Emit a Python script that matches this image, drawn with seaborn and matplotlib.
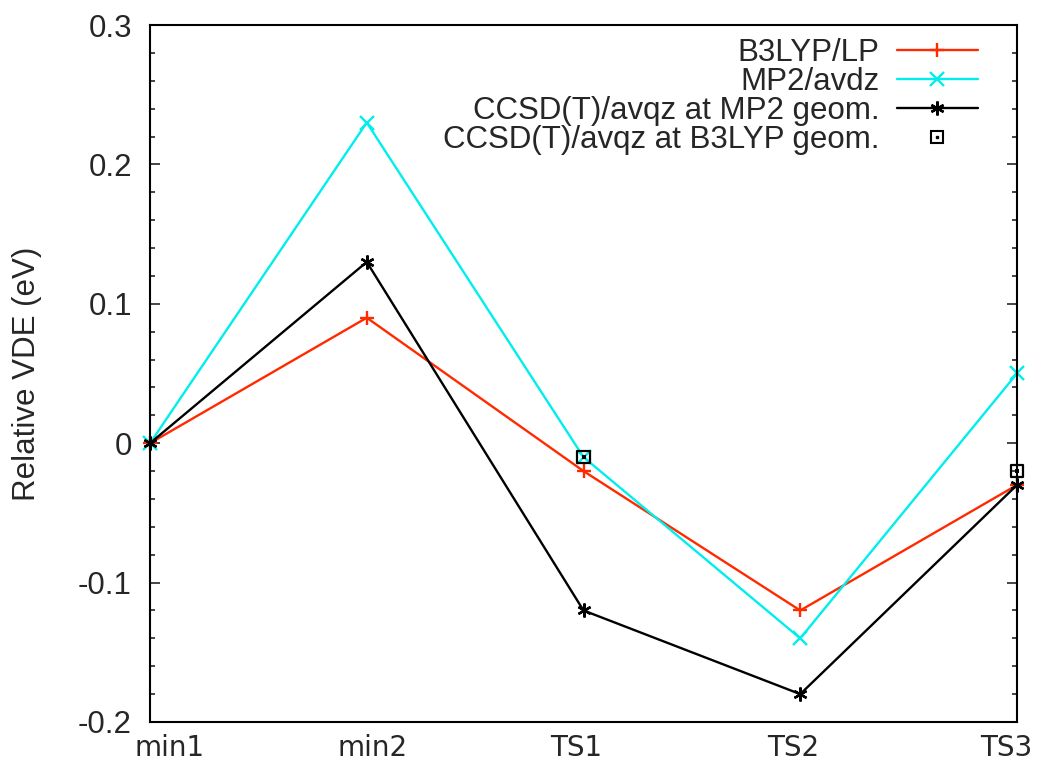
import numpy as np
import pandas as pd
import matplotlib
matplotlib.use("Agg")
import matplotlib.pyplot as plt
import matplotlib.transforms as mtransforms
import seaborn as sns
from matplotlib.ticker import MultipleLocator, FuncFormatter
from matplotlib.legend_handler import HandlerTuple
from matplotlib.lines import Line2D

categories = ["min1", "min2", "TS1", "TS2", "TS3"]
b3lyp_lp = [0.0, 0.09, -0.02, -0.12, -0.03]
mp2_avdz = [0.0, 0.23, -0.01, -0.14, 0.05]
ccsdt_mp2 = [0.0, 0.13, -0.12, -0.18, -0.03]
ccsdt_b3lyp = [np.nan, np.nan, -0.01, np.nan, -0.02]

sns.set_style("white")
plt.rcParams['font.family'] = ['Liberation Sans', 'DejaVu Sans']
plt.rcParams['axes.unicode_minus'] = False
FS = 22.5

pos = np.arange(len(categories))
df = pd.DataFrame({
    "pos": np.tile(pos, 3),
    "val": b3lyp_lp + mp2_avdz + ccsdt_mp2,
    "series": ["B3LYP/LP"] * 5 + ["MP2/avdz"] * 5 + ["CCSD(T)/avqz at MP2 geom."] * 5,
})

fig = plt.figure(figsize=(10.39, 7.79), dpi=100)
ax = fig.add_axes([0.1444, 0.0732, 0.8344, 0.8947])

styles = {
    "B3LYP/LP": dict(color="#ff2a00", marker="+"),
    "MP2/avdz": dict(color="#00eeee", marker="x"),
    "CCSD(T)/avqz at MP2 geom.": dict(color="black", marker=(6, 2, 0)),
}
for name, st in styles.items():
    sub = df[df.series == name]
    sns.lineplot(data=sub, x="pos", y="val", ax=ax, color=st["color"], marker=st["marker"],
                 markersize=10, markeredgewidth=1.7, linewidth=1.7, sort=False, label=name,
                 markeredgecolor=st["color"], clip_on=False)

sq = pd.DataFrame({"pos": pos, "val": ccsdt_b3lyp}).dropna()
sns.scatterplot(data=sq, x="pos", y="val", ax=ax, marker="s", s=75, facecolor="none",
                edgecolor="black", linewidth=1.6, zorder=5, clip_on=False)
sns.scatterplot(data=sq, x="pos", y="val", ax=ax, marker="s", s=6, color="black",
                linewidth=0, zorder=6, clip_on=False)

h, l = ax.get_legend_handles_labels()
h = h[:3]
l = l[:3]
sq_outer = Line2D([], [], linestyle="none", marker="s", markersize=8, markerfacecolor="none",
                  markeredgecolor="black", markeredgewidth=1.5)
sq_inner = Line2D([], [], linestyle="none", marker="s", markersize=2, color="black")
h.append((sq_outer, sq_inner))
l.append("CCSD(T)/avqz at B3LYP geom.")
ax.legend(h, l, loc="upper right", frameon=False, markerfirst=False, fontsize=FS,
          handlelength=2.6, labelspacing=-0.03, borderaxespad=0.0, borderpad=0.0,
          handletextpad=0.55, bbox_to_anchor=(0.955, 0.982),
          handler_map={tuple: HandlerTuple(ndivide=1, pad=0)})

ax.set_xlim(0, len(categories) - 1)
ax.set_ylim(-0.2, 0.3)
ax.set_xticks(pos)
ax.set_xticklabels(categories, fontfamily="DejaVu Sans", fontsize=20)
ax.yaxis.set_major_locator(MultipleLocator(0.1))
ax.yaxis.set_minor_locator(MultipleLocator(0.02))
ax.yaxis.set_major_formatter(FuncFormatter(lambda v, p: "%g" % round(v, 2)))
ax.tick_params(axis="y", which="major", direction="in", length=7, width=1.2,
               left=True, right=True, labelsize=FS, pad=13)
ax.tick_params(axis="y", which="minor", direction="in", length=3.5, width=1.2,
               left=True, right=True)
ax.tick_params(axis="x", length=0, pad=9)
label_shift_px = [20, 6, -7, -7, -11]
for lab, dx in zip(ax.get_xticklabels(), label_shift_px):
    lab.set_transform(lab.get_transform() + mtransforms.ScaledTranslation(dx / 100, 0, fig.dpi_scale_trans))
ax.set_xlabel("")
ax.set_ylabel("Relative VDE (eV)", fontsize=FS, labelpad=26)
for s in ax.spines.values():
    s.set_linewidth(1.5)
    s.set_color("black")

fig.savefig("out.png", dpi=100)
